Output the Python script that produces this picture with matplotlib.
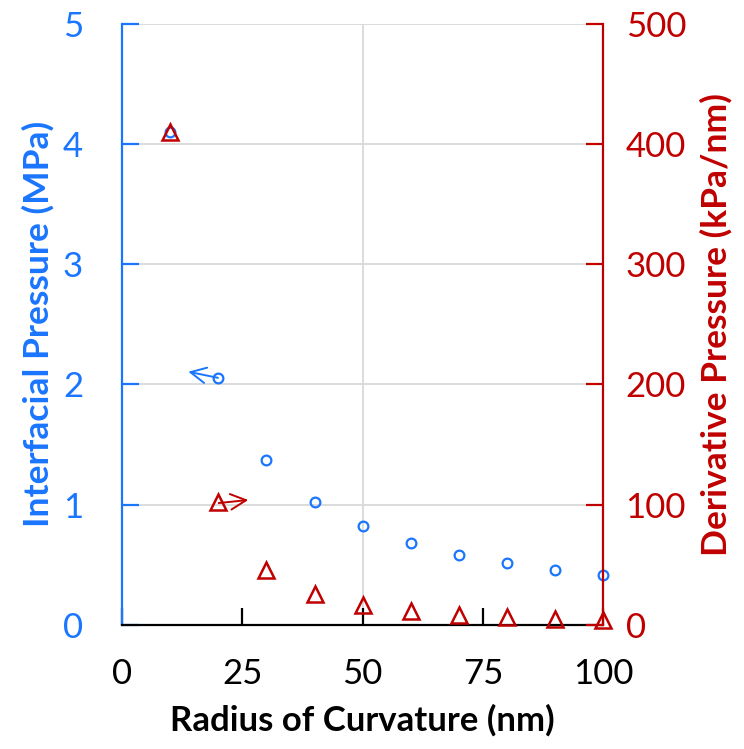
import matplotlib.pyplot as plt

plt.rcParams['font.family'] = ['Lato', 'DejaVu Sans']

radius = [10, 20, 30, 40, 50, 60, 70, 80, 90, 100]
interfacial = [4.10, 2.05, 1.37, 1.02, 0.82, 0.68, 0.58, 0.51, 0.455, 0.41]
derivative = [410, 102.5, 45.6, 25.6, 16.4, 11.4, 8.4, 6.4, 5.1, 4.1]

blue = '#1a75ff'
red = '#c00000'

fig = plt.figure(figsize=(7.44, 7.49), dpi=100)
ax = fig.add_axes([0.164, 0.166, 0.647, 0.802])
ax2 = ax.twinx()

ax.set_xlim(0, 100)
ax.set_ylim(0, 5)
ax2.set_ylim(0, 500)

# gridlines: horizontal every 1 MPa, single vertical at 50
for y in range(1, 6):
    ax.axhline(y, color='#d9d9d9', lw=1.3, zorder=0)
ax.axvline(50, color='#d9d9d9', lw=1.3, zorder=0)

ax.plot(radius, interfacial, 'o', ms=7, mfc='none', mec=blue, mew=1.6,
        zorder=3, clip_on=False)
ax2.plot(radius, derivative, '^', ms=11, mfc='none', mec=red, mew=1.8,
         zorder=3, clip_on=False)

# arrows pointing to each series' axis
ax.annotate('', xy=(13.2, 2.11), xytext=(20.5, 2.05),
            arrowprops=dict(arrowstyle='->', color=blue, lw=1.4, mutation_scale=28))
ax2.annotate('', xy=(26.8, 104), xytext=(19.5, 101),
             arrowprops=dict(arrowstyle='->', color=red, lw=1.4, mutation_scale=28))

ax.set_xticks([0, 25, 50, 75, 100])
ax.set_yticks([0, 1, 2, 3, 4, 5])
ax2.set_yticks([0, 100, 200, 300, 400, 500])

for a in (ax, ax2):
    a.spines['top'].set_visible(False)
ax.spines['right'].set_visible(False)
ax.spines['left'].set_color(blue)
ax.spines['left'].set_linewidth(1.6)
ax.spines['bottom'].set_linewidth(1.6)
ax2.spines['left'].set_visible(False)
ax2.spines['bottom'].set_visible(False)
ax2.spines['right'].set_color(red)
ax2.spines['right'].set_linewidth(1.6)

ax.tick_params(axis='x', direction='in', length=12, width=1.6, labelsize=25, pad=24)
ax.tick_params(axis='y', direction='in', length=12, width=1.6, color=blue,
               labelcolor=blue, labelsize=25, pad=28)
ax2.tick_params(axis='y', direction='in', length=12, width=1.6, color=red,
                labelcolor=red, labelsize=25, pad=16)

ax.set_xlabel('Radius of Curvature (nm)', fontsize=25, fontweight='bold', labelpad=10)
ax.set_ylabel('Interfacial Pressure (MPa)', fontsize=25.5, fontweight='bold',
              color=blue, labelpad=6)
ax2.set_ylabel('Derivative Pressure (kPa/nm)', fontsize=25.5, fontweight='bold',
               color=red, labelpad=10)

fig.savefig('out.png', dpi=100)
